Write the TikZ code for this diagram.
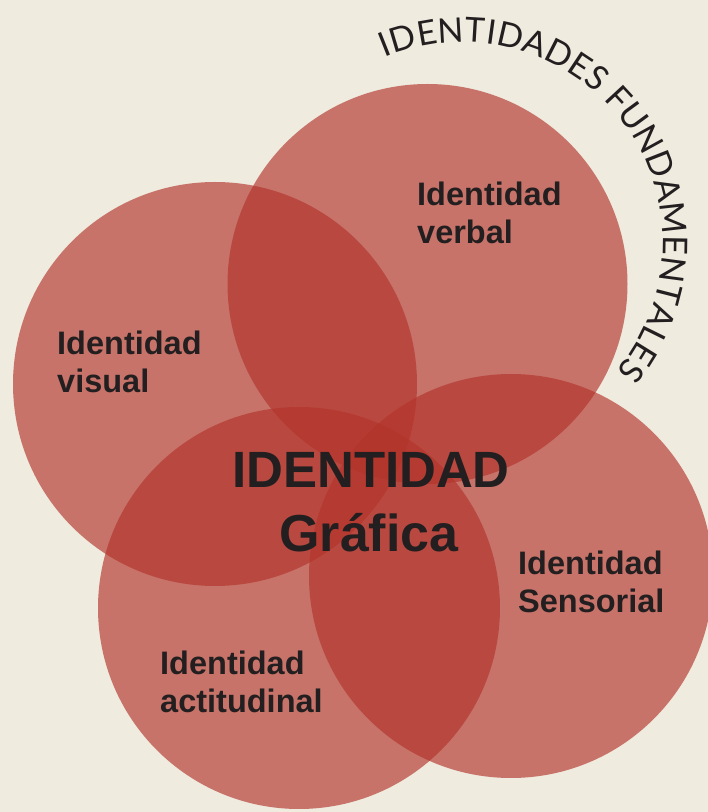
\documentclass[tikz,border=0pt]{standalone}
\usepackage{fontspec}
\usetikzlibrary{decorations.text}
\setmainfont{Liberation Sans}
\newfontfamily\arcfont{Lato}
\definecolor{bgcol}{RGB}{239,235,223}
\definecolor{circcol}{RGB}{179,52,43}
\definecolor{inkcol}{RGB}{35,31,32}
\tikzset{
  venn/.style={fill=circcol, fill opacity=0.65, draw=none},
  label/.style={anchor=base west, inner sep=0pt, text=inkcol, font=\fontsize{32.5}{38}\selectfont\bfseries},
  bigtext/.style={anchor=base, inner sep=0pt, text=inkcol, font=\fontsize{51}{64}\selectfont\bfseries}
}
\begin{document}
\begin{tikzpicture}[x=1pt,y=1pt]
\useasboundingbox (0,0) rectangle (708,812);
\fill[bgcol] (0,0) rectangle (708,812);
% circles
\fill[venn] (427.5,528) circle[radius=200];
\fill[venn] (215,428) circle[radius=202];
\fill[venn] (299,204) circle[radius=201];
\fill[venn] (511,236) circle[radius=202];
% labels
\node[label] (verbal1) at (417,606) {Identidad};
\node[label] (verbal2) at (417,568) {verbal};
\node[label] (visual1) at (57,457) {Identidad};
\node[label] (visual2) at (57,419) {visual};
\node[label] (sens1) at (518,237) {Identidad};
\node[label] (sens2) at (518,199) {Sensorial};
\node[label] (act1) at (160,137) {Identidad};
\node[label] (act2) at (160,99) {actitudinal};
\node[bigtext] (main1) at (371,324) {IDENTIDAD};
\node[bigtext] (main2) at (369,260) {\fontsize{52}{64}\selectfont Gráfica};
% arc text
\path[decorate, decoration={text along path, text align={fit to path},
  text={|\arcfont\fontsize{34}{34}\selectfont\color{inkcol}|IDENTIDADES FUNDAMENTALES}}]
  (463,570) ++(113:200) arc[start angle=113, end angle=-40, radius=200];
\end{tikzpicture}
\end{document}
